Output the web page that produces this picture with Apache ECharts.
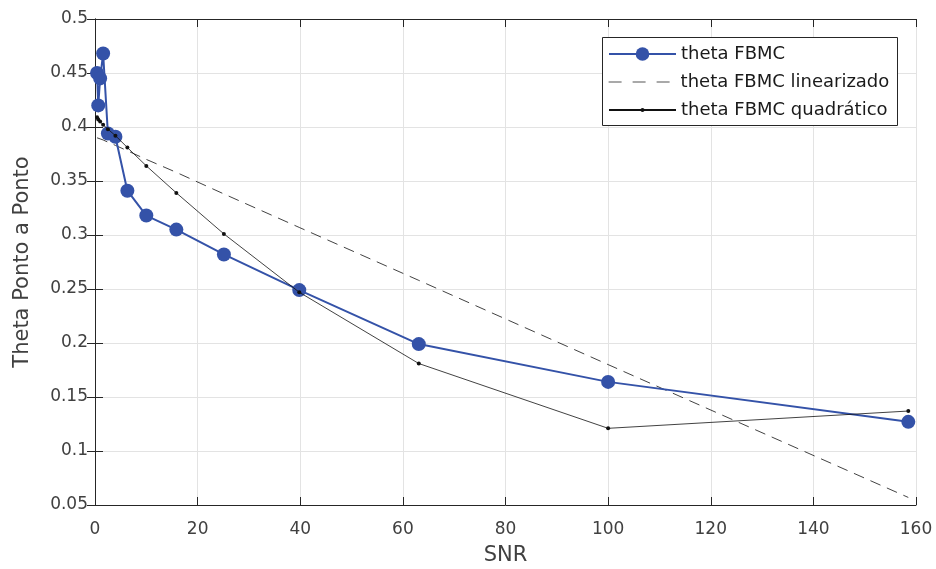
<!DOCTYPE html>
<html><head><meta charset="utf-8">
<script src="https://cdn.jsdelivr.net/npm/echarts@6/dist/echarts.min.js"></script>
<style>html,body{margin:0;padding:0;background:#fff}#c{width:936px;height:569px}</style>
</head><body><div id="c"></div>
<script>
const snr = [0.398, 0.631, 1, 1.585, 2.512, 3.981, 6.31, 10, 15.85, 25.12, 39.81, 63.1, 100, 158.5];
const thetaFBMC = [0.450, 0.420, 0.445, 0.468, 0.394, 0.391, 0.341, 0.318, 0.305, 0.282, 0.249, 0.199, 0.164, 0.127];
const thetaLinear = [0.390, 0.389, 0.389, 0.388, 0.386, 0.383, 0.378, 0.370, 0.358, 0.338, 0.307, 0.258, 0.180, 0.057];
const thetaQuad = [0.409, 0.407, 0.405, 0.402, 0.398, 0.392, 0.381, 0.364, 0.339, 0.301, 0.247, 0.181, 0.121, 0.137];
const seriesNames = ['theta FBMC', 'theta FBMC linearizado', 'theta FBMC quadrático'];
const xLabel = 'SNR';
const yLabel = 'Theta Ponto a Ponto';

const pair = ys => snr.map((x, i) => [x, ys[i]]);
const FONT = 'DejaVu Sans, sans-serif';
const AX = '#262626';
const TXT = '#404040';
const chart = echarts.init(document.getElementById('c'));
const fmt = v => String(parseFloat(v.toFixed(2)));
const legendBase = {
  orient: 'vertical', left: 608, padding: 0,
  itemWidth: 67, itemGap: 0,
  textStyle: { fontFamily: FONT, fontSize: 18, color: '#1a1a1a', lineHeight: 20, padding: [0, 0, 0, 0] }
};
chart.setOption({
  animation: false,
  backgroundColor: '#fff',
  grid: { left: 95, top: 19, right: 20, bottom: 64, containLabel: false, outerBoundsMode: 'none' },
  graphic: [{
    type: 'rect', left: 602, top: 37, z: 3,
    shape: { width: 295, height: 88 },
    style: { fill: '#fff', stroke: AX, lineWidth: 1 }
  }],
  xAxis: [{
    type: 'value', min: 0, max: 160, interval: 20,
    name: xLabel, nameLocation: 'middle', nameGap: 40,
    nameTextStyle: { fontFamily: FONT, fontSize: 21, color: TXT, lineHeight: 22 },
    axisLine: { show: true, onZero: false, lineStyle: { color: AX, width: 1 } },
    axisTick: { show: true, inside: true, length: 8, lineStyle: { color: AX } },
    axisLabel: { fontFamily: FONT, fontSize: 17, color: TXT, margin: 16, formatter: fmt },
    splitLine: { show: true, lineStyle: { color: '#e3e3e3', width: 1 } }
  }, {
    type: 'value', position: 'top', min: 0, max: 160, interval: 20,
    axisLine: { show: true, lineStyle: { color: AX, width: 1 } },
    axisTick: { show: true, inside: true, length: 8, lineStyle: { color: AX } },
    axisLabel: { show: false }, splitLine: { show: false }
  }],
  yAxis: [{
    type: 'value', min: 0.05, max: 0.5, interval: 0.05,
    name: yLabel, nameLocation: 'middle', nameGap: 62,
    nameTextStyle: { fontFamily: FONT, fontSize: 21, color: TXT },
    axisLine: { show: true, onZero: false, lineStyle: { color: AX, width: 1 } },
    axisTick: { show: true, inside: true, length: 8, lineStyle: { color: AX } },
    axisLabel: { fontFamily: FONT, fontSize: 17, color: TXT, margin: 7, formatter: fmt },
    splitLine: { show: true, lineStyle: { color: '#e3e3e3', width: 1 } }
  }, {
    type: 'value', position: 'right', min: 0.05, max: 0.5, interval: 0.05,
    axisLine: { show: true, lineStyle: { color: AX, width: 1 } },
    axisTick: { show: true, inside: true, length: 8, lineStyle: { color: AX } },
    axisLabel: { show: false }, splitLine: { show: false }
  }],
  legend: [
    Object.assign({}, legendBase, { top: 44, itemHeight: 17, data: [seriesNames[0]] }),
    Object.assign({}, legendBase, { top: 72, itemHeight: 14, data: [{ name: seriesNames[1], itemStyle: { opacity: 0 } }],
      lineStyle: { type: [13, 11], color: '#555', width: 1.2 } }),
    Object.assign({}, legendBase, { top: 100, itemHeight: 5, data: [seriesNames[2]] })
  ],
  series: [{
    name: seriesNames[0], type: 'line', data: pair(thetaFBMC),
    symbol: 'circle', symbolSize: 14,
    lineStyle: { color: '#3452a8', width: 2 },
    itemStyle: { color: '#3452a8' }, z: 3
  }, {
    name: seriesNames[1], type: 'line', data: pair(thetaLinear),
    symbol: 'none',
    lineStyle: { color: '#111', width: 0.8, type: [11, 7] },
    itemStyle: { color: '#111' }, z: 2
  }, {
    name: seriesNames[2], type: 'line', data: pair(thetaQuad),
    symbol: 'circle', symbolSize: 4,
    lineStyle: { color: '#111', width: 0.8 },
    itemStyle: { color: '#111' }, z: 4
  }]
});
</script></body></html>
